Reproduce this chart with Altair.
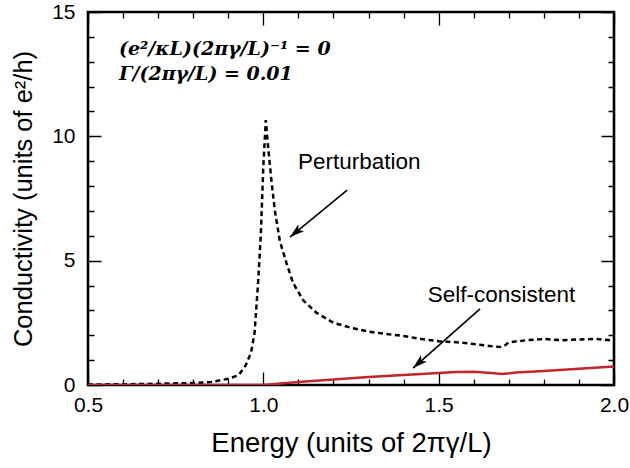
import math
import altair as alt
import pandas as pd

# ---- data ----
pert_x = [0.5, 0.6, 0.7, 0.8, 0.85, 0.9, 0.93, 0.95, 0.965, 0.975, 0.985, 0.993, 1.0,
          1.007, 1.014, 1.024, 1.033, 1.047, 1.066, 1.085, 1.114, 1.152, 1.2, 1.25,
          1.3, 1.35, 1.4, 1.45, 1.5, 1.55, 1.6, 1.65, 1.675, 1.69, 1.7, 1.75, 1.8,
          1.85, 1.9, 1.95, 2.0]
pert_y = [0.02, 0.03, 0.05, 0.08, 0.12, 0.25, 0.4, 0.8, 1.3, 2.1, 4.1, 6.1, 8.8,
          10.65, 9.5, 8.1, 7.0, 5.8, 4.9, 4.1, 3.4, 2.9, 2.5, 2.3,
          2.15, 2.05, 1.97, 1.85, 1.76, 1.72, 1.65, 1.56, 1.53, 1.6, 1.72, 1.8, 1.85,
          1.8, 1.83, 1.85, 1.78]
self_x = [0.5, 1.0, 1.1, 1.2, 1.3, 1.4, 1.5, 1.55, 1.6, 1.65, 1.68, 1.72, 1.8, 1.9, 2.0]
self_y = [0.0, 0.0, 0.12, 0.22, 0.32, 0.4, 0.48, 0.52, 0.53, 0.48, 0.44, 0.5, 0.56, 0.65, 0.74]

x_major = [0.5, 1.0, 1.5, 2.0]
x_minor = [0.6, 0.7, 0.8, 0.9, 1.1, 1.2, 1.3, 1.4, 1.6, 1.7, 1.8, 1.9]
y_major = [0, 5, 10, 15]
y_minor = [1, 2, 3, 4, 6, 7, 8, 9, 11, 12, 13, 14]

labels = ["Perturbation", "Self-consistent"]
label_x = [1.099, 1.469]
label_y = [8.97, 3.62]
arrow_x0 = [1.239, 1.618]
arrow_y0 = [7.84, 3.06]
arrow_x1 = [1.076, 1.427]
arrow_y1 = [5.95, 0.68]

note_lines = ["(e²/κL)(2πγ/L)⁻¹ = 0", "Γ/(2πγ/L) = 0.01"]

# ---- layout ----
W, H = 526, 373
XD, YD = [0.5, 2.0], [0, 15]
sx = alt.Scale(domain=XD, nice=False, zero=False)
sy = alt.Scale(domain=YD, nice=False)
FONT = "Liberation Sans"
PXX = W / (XD[1] - XD[0])   # pixels per x unit
PXY = H / (YD[1] - YD[0])   # pixels per y unit
MAJ, MIN = 13, 6            # inward tick lengths (px)

pert = pd.DataFrame({"x": pert_x, "y": pert_y})
selfc = pd.DataFrame({"x": self_x, "y": self_y})

# Inward ticks on all four sides: grid lines dashed so that only a short
# segment remains at each end of the frame.
xaxis = alt.Axis(values=x_major, format=".1f", orient="bottom", grid=True, domain=False,
                 ticks=False, gridColor="black", gridOpacity=1, gridWidth=1.3,
                 gridDash=[MAJ, H - 2 * MAJ], labelFlush=False, labelOverlap=False,
                 labelFont=FONT, labelFontSize=21, labelColor="black", labelPadding=9,
                 title="Energy (units of 2πγ/L)", titleFont=FONT, titleFontSize=27.5,
                 titleFontWeight="normal", titleColor="black", titlePadding=14)
yaxis = alt.Axis(values=y_major, format="d", orient="left", grid=True, domain=False,
                 ticks=False, gridColor="black", gridOpacity=1, gridWidth=1.3,
                 gridDash=[MAJ, W - 2 * MAJ], labelFlush=False, labelOverlap=False,
                 labelFont=FONT, labelFontSize=21, labelColor="black", labelPadding=13,
                 title="Conductivity (units of e²/h)", titleFont=FONT, titleFontSize=25.5,
                 titleFontWeight="normal", titleColor="black", titlePadding=15)
# minor ticks: a second, label-less axis per direction carrying only dashed grid lines
xaxis_minor = alt.Axis(values=x_minor, orient="top", grid=True, domain=False, ticks=False,
                       labels=False, title=None, gridColor="black", gridOpacity=1,
                       gridWidth=1.3, gridDash=[MIN, H - 2 * MIN])
yaxis_minor = alt.Axis(values=y_minor, orient="right", grid=True, domain=False, ticks=False,
                       labels=False, title=None, gridColor="black", gridOpacity=1,
                       gridWidth=1.3, gridDash=[MIN, W - 2 * MIN])

base_line = alt.Chart(pert).mark_line(color="black", strokeWidth=2.5, strokeDash=[5, 3.5],
                                      clip=True).encode(
    x=alt.X("x:Q", scale=sx, axis=xaxis),
    y=alt.Y("y:Q", scale=sy, axis=yaxis),
)
red_line = alt.Chart(selfc).mark_line(color="#c0262d", strokeWidth=2.5, clip=True).encode(
    x=alt.X("x:Q", scale=sx, axis=xaxis_minor),
    y=alt.Y("y:Q", scale=sy, axis=yaxis_minor),
)

# arrows
angles = []
for a, b, c, d in zip(arrow_x0, arrow_y0, arrow_x1, arrow_y1):
    dx = (c - a) * PXX
    dy = -(d - b) * PXY
    angles.append(math.degrees(math.atan2(dx, -dy)) % 360)
arr = pd.DataFrame({"x0": arrow_x0, "y0": arrow_y0, "x1": arrow_x1, "y1": arrow_y1,
                    "ang": angles})
arrow_lines = alt.Chart(arr).mark_rule(color="black", strokeWidth=1.6).encode(
    x=alt.X("x0:Q", scale=sx, axis=None), y=alt.Y("y0:Q", scale=sy, axis=None),
    x2="x1:Q", y2="y1:Q")
arrow_heads = alt.Chart(arr).mark_point(
    shape="M0,0 L-0.45,1.45 L0,1.1 L0.45,1.45 Z", filled=True, color="black",
    opacity=1, size=400, strokeWidth=0).encode(
    x=alt.X("x1:Q", scale=sx, axis=None), y=alt.Y("y1:Q", scale=sy, axis=None),
    angle=alt.Angle("ang:Q", scale=None))

lab = pd.DataFrame({"t": labels, "x": label_x, "y": label_y})
label_text = alt.Chart(lab).mark_text(font=FONT, fontSize=22.5, align="left", baseline="middle",
                                      color="black").encode(
    x=alt.X("x:Q", scale=sx, axis=None), y=alt.Y("y:Q", scale=sy, axis=None), text="t:N")

note_layers = []
for i, line in enumerate(note_lines):
    note_layers.append(
        alt.Chart(pd.DataFrame({"t": [line]})).mark_text(
            font="DejaVu Serif", fontSize=19, fontWeight="bold", fontStyle="italic",
            align="left", baseline="alphabetic", color="black").encode(
            x=alt.value(31), y=alt.value(43 + 25 * i), text="t:N"))

chart = alt.layer(base_line, red_line, arrow_lines, arrow_heads, label_text,
                  *note_layers).resolve_axis(x="independent", y="independent").properties(
    width=W, height=H,
    background="white",
    autosize=alt.AutoSizeParams(type="none"),
    padding={"left": 88, "top": 12, "right": 16, "bottom": 83},
).configure_view(stroke="black", strokeWidth=2.6)

chart.save("out.html", embed_options={"renderer": "svg", "actions": False})
